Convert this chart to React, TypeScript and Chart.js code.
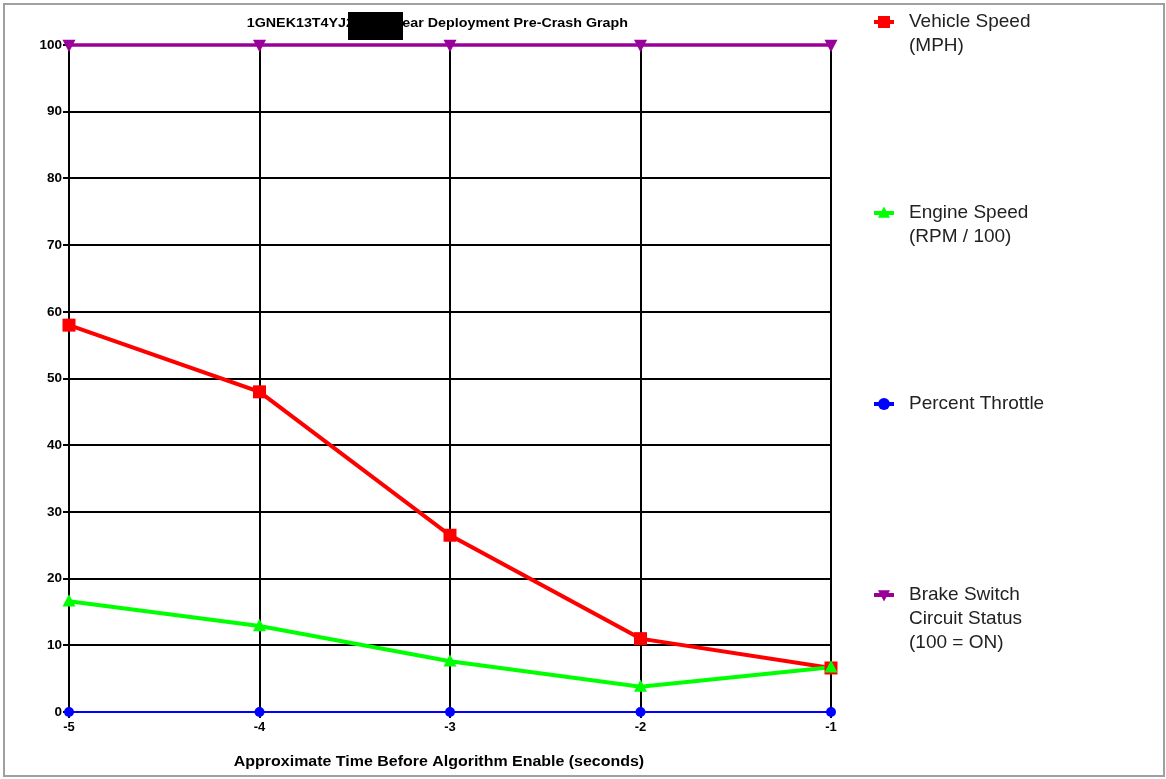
import React, { useEffect, useRef } from "react";
import { Chart, registerables } from "chart.js";

Chart.register(...registerables);

const timeLabels = ["-5", "-4", "-3", "-2", "-1"];
const vehicleSpeed = [58, 48, 26.5, 11, 6.6];
const engineSpeed = [16.6, 12.9, 7.6, 3.8, 6.7];
const percentThrottle = [0, 0, 0, 0, 0];
const brakeStatus = [100, 100, 100, 100, 100];

const legendLabels = [
  ["Vehicle Speed", "(MPH)"],
  ["Engine Speed", "(RPM / 100)"],
  ["Percent Throttle"],
  ["Brake Switch", "Circuit Status", "(100 = ON)"],
];
const titleLeft = "1GNEK13T4YJ2";
const titleRight = "Near Deployment Pre-Crash Graph";
const xTitle = "Approximate Time Before Algorithm Enable (seconds)";

const FONT = "'Liberation Sans', Arial, sans-serif";

function drawMarker(ctx: CanvasRenderingContext2D, style: string, x: number, y: number, r: number, color: string) {
  ctx.save();
  ctx.fillStyle = color;
  ctx.beginPath();
  if (style === "rect") {
    ctx.rect(x - r, y - r, 2 * r, 2 * r);
  } else if (style === "circle") {
    ctx.arc(x, y, r, 0, Math.PI * 2);
  } else if (style === "triUp") {
    ctx.moveTo(x, y - r * 1.1);
    ctx.lineTo(x + r, y + r * 0.8);
    ctx.lineTo(x - r, y + r * 0.8);
    ctx.closePath();
  } else {
    ctx.moveTo(x, y + r * 1.1);
    ctx.lineTo(x + r, y - r * 0.8);
    ctx.lineTo(x - r, y - r * 0.8);
    ctx.closePath();
  }
  ctx.fill();
  ctx.restore();
}

function stretchedText(ctx: CanvasRenderingContext2D, text: string, x: number, y: number, sx: number, align: CanvasTextAlign) {
  ctx.save();
  ctx.translate(x, y);
  ctx.scale(sx, 1);
  ctx.textAlign = align;
  ctx.fillText(text, 0, 0);
  ctx.restore();
}

const markerStyles = ["rect", "triUp", "circle", "triDown"];

const decorPlugin = {
  id: "decor",
  afterDraw(chart: any) {
    const ctx: CanvasRenderingContext2D = chart.ctx;
    const area = chart.chartArea;
    ctx.save();
    // Title
    ctx.fillStyle = "#000";
    ctx.font = `bold 13px ${FONT}`;
    ctx.textBaseline = "middle";
    stretchedText(ctx, titleLeft, 354, 23, 1.1, "right");
    stretchedText(ctx, titleRight, 392, 23, 1.1, "left");
    ctx.fillStyle = "#000";
    ctx.fillRect(348, 12, 55, 28);
    // X title
    ctx.font = `bold 14px ${FONT}`;
    stretchedText(ctx, xTitle, (area.left + area.right) / 2 - 11, 762, 1.14, "center");
    // Legend
    const ds = chart.data.datasets;
    ctx.font = `19px ${FONT}`;
    ctx.textAlign = "left";
    for (let i = 0; i < ds.length; i++) {
      const y = 22 + i * 191;
      const color = ds[i].borderColor;
      ctx.strokeStyle = color;
      ctx.lineWidth = 4;
      ctx.beginPath();
      ctx.moveTo(874, y);
      ctx.lineTo(894, y);
      ctx.stroke();
      drawMarker(ctx, markerStyles[i], 884, y, 6, color);
      ctx.fillStyle = "#222";
      legendLabels[i].forEach((t, j) => ctx.fillText(t, 909, y + j * 24));
    }
    ctx.restore();
  },
};

const customMarkers = {
  id: "customMarkers",
  afterDatasetsDraw(chart: any) {
    const ctx: CanvasRenderingContext2D = chart.ctx;
    const metas = chart.getSortedVisibleDatasetMetas().slice().reverse();
    for (const meta of metas) {
      const i = meta.index;
      const color = chart.data.datasets[i].borderColor;
      const r = i === 2 ? 5 : 6.5;
      for (const p of meta.data) drawMarker(ctx, markerStyles[i], p.x, p.y, r, color);
    }
  },
};

export default function App() {
  const ref = useRef<HTMLCanvasElement>(null);
  useEffect(() => {
    if (!ref.current) return;
    const chart = new Chart(ref.current, {
      type: "line",
      data: {
        labels: timeLabels,
        datasets: [
          { label: "Vehicle Speed (MPH)", data: vehicleSpeed, borderColor: "#ff0000", borderWidth: 4, pointRadius: 0, order: 3, clip: false },
          { label: "Engine Speed (RPM / 100)", data: engineSpeed, borderColor: "#00ff00", borderWidth: 4, pointRadius: 0, order: 2, clip: false },
          { label: "Percent Throttle", data: percentThrottle, borderColor: "#0000ff", borderWidth: 2, pointRadius: 0, order: 1, clip: false },
          { label: "Brake Switch Circuit Status (100 = ON)", data: brakeStatus, borderColor: "#990099", borderWidth: 3.5, pointRadius: 0, order: 0, clip: false },
        ],
      },
      options: {
        animation: false,
        responsive: true,
        maintainAspectRatio: false,
        layout: { padding: { left: 0, top: 45, right: 335, bottom: 0 } },
        plugins: { legend: { display: false }, title: { display: false }, tooltip: { enabled: false } },
        scales: {
          x: {
            type: "category",
            offset: false,
            grid: { color: "#000", lineWidth: 2, tickLength: 6, drawTicks: true },
            border: { color: "#000", width: 2 },
            ticks: { color: "#000", font: { family: FONT, size: 13, weight: "bold" }, padding: 2, maxRotation: 0 },
            afterFit: (s: any) => { s.height = 67; },
          },
          y: {
            min: 0,
            max: 100,
            ticks: { stepSize: 10, color: "#000", font: { family: FONT, size: 13.5, weight: "bold" }, padding: 1 },
            grid: { color: "#000", lineWidth: 2, tickLength: 6 },
            border: { color: "#000", width: 2 },
            afterFit: (s: any) => { s.width = 69; },
          },
        },
      },
      plugins: [customMarkers, decorPlugin],
    });
    return () => chart.destroy();
  }, []);
  return (
    <div style={{ position: "absolute", left: 0, top: 0, width: 1166, height: 779, background: "#fff" }}>
      <div style={{ position: "absolute", left: 3, top: 3, width: 1158, height: 770, border: "2px solid #a0a0a0" }} />
      <div style={{ position: "absolute", left: 0, top: 0, width: 1166, height: 779 }}>
        <canvas ref={ref} />
      </div>
    </div>
  );
}
